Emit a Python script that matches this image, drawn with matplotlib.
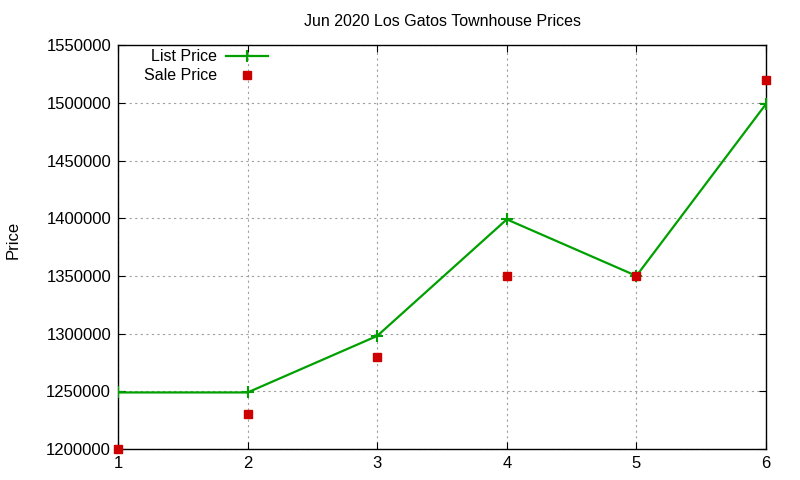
import matplotlib
matplotlib.use("Agg")
import matplotlib.pyplot as plt

# data
months = [1, 2, 3, 4, 5, 6]
list_price = [1249000, 1249000, 1298000, 1399000, 1350000, 1499000]
sale_price = [1200000, 1230000, 1280000, 1350000, 1350000, 1520000]
y_ticks = [1200000, 1250000, 1300000, 1350000, 1400000, 1450000, 1500000, 1550000]

plt.rcParams['font.family'] = ['Liberation Sans', 'DejaVu Sans']

fig = plt.figure(figsize=(8, 4.8), dpi=100)
ax = fig.add_axes([0.1475, 0.0646, 0.81, 0.8414])

ax.plot(months, list_price, color='#00a000', lw=1.6, marker='+', ms=8, mew=1.5,
        label='List Price', zorder=3)
ax.plot(months, sale_price, ls='none', marker='s', ms=6, color='#cc0000',
        label='Sale Price', zorder=4, clip_on=False)

ax.set_xlim(1, 6)
ax.set_ylim(1200000, 1550000)
ax.set_xticks(months)
ax.set_yticks(y_ticks)
ax.set_yticklabels([str(v) for v in y_ticks])
ax.tick_params(direction='in', top=True, right=True, labelsize=12, length=5, pad=5)
ax.grid(True, ls=(0, (2, 3)), color='#a0a0a0', lw=0.8)
for s in ax.spines.values():
    s.set_linewidth(1.0)

ax.set_title('Jun 2020 Los Gatos Townhouse Prices', fontsize=11.5, pad=14)
# y label placed by hand, the axes label would fall off the left edge
fig.text(0.016, 0.5, 'Price', rotation=90, fontsize=12, ha='center', va='center')

ax.legend(loc='upper right', bbox_to_anchor=(0.2315, 0.99), frameon=False,
          markerfirst=False, fontsize=11.5, handlelength=2.6, labelspacing=0.25,
          borderaxespad=0.0, handletextpad=0.6, borderpad=0.0)

fig.savefig('out.png', dpi=100)
